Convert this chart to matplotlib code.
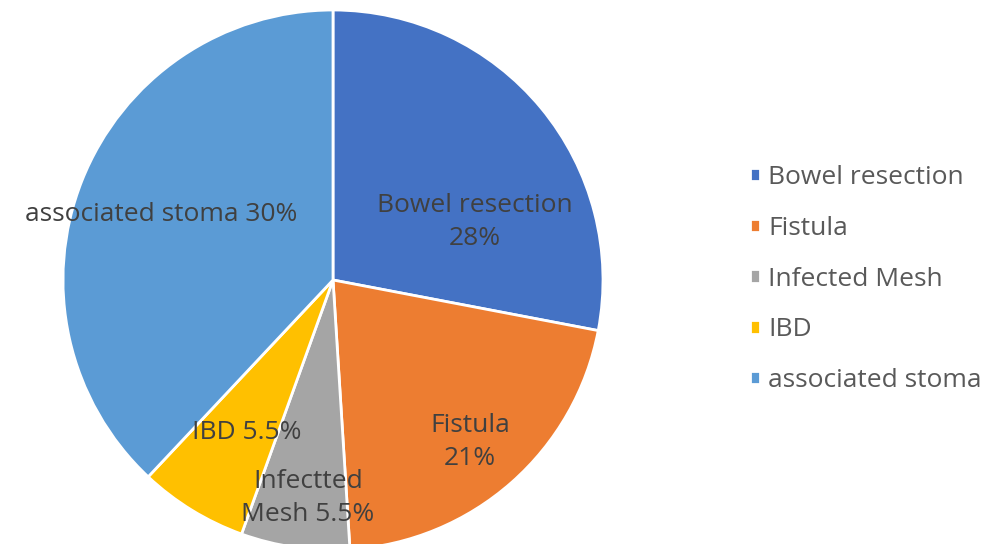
import matplotlib
matplotlib.use('Agg')
import matplotlib.pyplot as plt

# Data
categories = ['Bowel resection', 'Fistula', 'Infected Mesh', 'IBD', 'associated stoma']
shares = [28, 21, 6.5, 6.5, 38]          # slice sizes
slice_labels = ['Bowel resection\n28%', 'Fistula\n21%', 'Infectted\nMesh 5.5%',
                'IBD 5.5%', 'associated stoma 30%']
colors = ['#4472C4', '#ED7D31', '#A5A5A5', '#FFC000', '#5B9BD5']

# label positions (pie units, radius = 1)
label_pos = [(0.526, 0.215), (0.507, -0.6), (-0.093, -0.807),
             (-0.319, -0.563), (-0.637, 0.244)]

plt.rcParams['font.family'] = ['Open Sans', 'DejaVu Sans']
FS = 19

W, H = 992, 544
fig = plt.figure(figsize=(W / 100, H / 100), dpi=100)
cx, cy, r = 333, 280, 270
ax = fig.add_axes([(cx - r) / W, (H - cy - r) / H, 2 * r / W, 2 * r / H])

wedges, _ = ax.pie(shares, colors=colors, startangle=90, counterclock=False,
                   radius=1, wedgeprops=dict(edgecolor='white', linewidth=2))
ax.set_xlim(-1, 1)
ax.set_ylim(-1, 1)
ax.set_aspect('equal')
ax.axis('off')

for (x, y), txt in zip(label_pos, slice_labels):
    ax.text(x, y, txt, ha='center', va='center', fontsize=FS,
            color='#404040', linespacing=1.45)

leg = fig.legend(wedges, categories, loc='center left',
                 bbox_to_anchor=(726 / W, 1 - 279 / H), frameon=False,
                 fontsize=FS, labelspacing=0.98, handlelength=0.4,
                 handleheight=0.4, handletextpad=0.3, labelcolor='#595959')

fig.savefig('out.png', dpi=100)
